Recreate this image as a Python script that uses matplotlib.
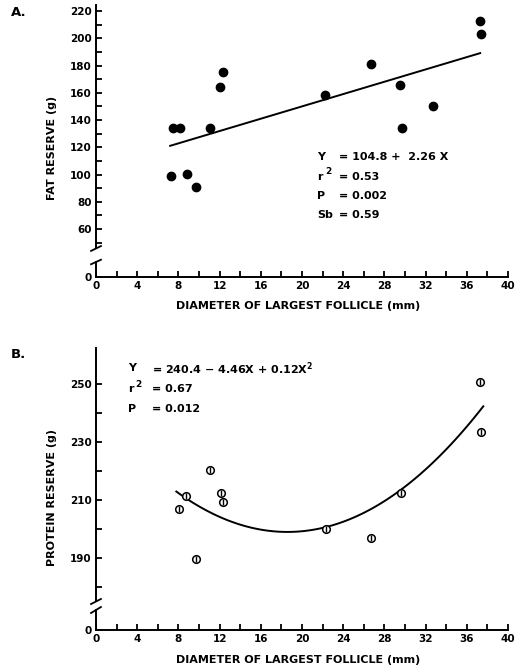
import matplotlib.pyplot as plt
import numpy as np
from matplotlib.ticker import MultipleLocator

plt.rcParams['font.family'] = ['DejaVu Sans']
plt.rcParams['font.weight'] = 'bold'
plt.rcParams['mathtext.fontset'] = 'dejavusans'

# 数据 A: fat reserve
fat_x = [7.3, 7.5, 8.15, 8.8, 9.75, 11.1, 12.05, 12.35, 22.2, 26.7, 29.55, 29.7, 32.75, 37.3, 37.35]
fat_y = [99, 134.5, 134.5, 100.5, 90.5, 134, 164.5, 175.5, 158.5, 181, 165.5, 134, 150.5, 213, 203]
fat_coef = [104.8, 2.26]        # Y = a + bX
fat_range = [7.2, 37.3]

# 数据 B: protein reserve
prot_x = [8.1, 8.75, 9.75, 11.1, 12.1, 12.3, 22.3, 26.7, 29.65, 37.3, 37.35]
prot_y = [207, 211.5, 189.5, 220.5, 212.3, 209.4, 200, 197, 212.4, 250.7, 233.6]
prot_coef = [240.4, -4.46, 0.12]  # Y = a + bX + cX^2
prot_range = [7.8, 37.6]

W, H = 524, 667
fig = plt.figure(figsize=(W / 100, H / 100), dpi=100)


def fx(px):
    return px / W


def fy(py):
    return 1 - py / H


def style(ax, bottom=False):
    for s in ['top', 'right']:
        ax.spines[s].set_visible(False)
    ax.spines['left'].set_linewidth(1.4)
    ax.spines['bottom'].set_linewidth(1.4)
    ax.tick_params(direction='in', length=4, width=1.3, labelsize=7.5, pad=3)
    ax.tick_params(which='minor', direction='in', length=4, width=1.3)
    ax.set_xlim(0, 40)
    if not bottom:
        ax.spines['bottom'].set_visible(False)
        ax.tick_params(axis='x', which='both', bottom=False, labelbottom=False)
    else:
        ax.xaxis.set_major_locator(MultipleLocator(4))
        ax.xaxis.set_minor_locator(MultipleLocator(2))


def breakmarks(ax, ax_low):
    kw = dict(color='black', lw=1.3, clip_on=False)
    ax.plot([-0.012, 0.012], [-0.012, 0.008], transform=ax.transAxes, **kw)
    ax_low.plot([-0.012, 0.012], [0.85, 1.15], transform=ax_low.transAxes, **kw)


def sup2(ax, x, y, fs):
    # 上标 2, 比 mathtext 默认的大一些
    ax.annotate('2', (x, y), xytext=(5.5, 3.5), textcoords='offset points',
                fontsize=fs * 0.8, fontweight='bold', va='center')


left = fx(96)
width = fx(508) - fx(96)
fs = 8

# ---------- A ----------
axA = fig.add_axes([left, fy(248), width, fy(5) - fy(248)])
axA_low = fig.add_axes([left, fy(277), width, fy(262) - fy(277)])
style(axA)
style(axA_low, bottom=True)
axA.set_ylim(46.1, 224.4)
axA.set_yticks(range(60, 221, 20))
axA.yaxis.set_minor_locator(MultipleLocator(10))
axA_low.set_ylim(0, 11)
axA_low.set_yticks([0])
breakmarks(axA, axA_low)

axA.scatter(fat_x, fat_y, s=36, color='black', zorder=3)
xx = np.linspace(fat_range[0], fat_range[1], 50)
axA.plot(xx, fat_coef[0] + fat_coef[1] * xx, color='black', lw=1.4)

statsA = [('Y', '= 104.8 +  2.26 X', 113), ('r', '= 0.53', 98.3),
          ('P', '= 0.002', 84.4), ('Sb', '= 0.59', 70.4)]
for name, val, yy in statsA:
    axA.text(21.5, yy, name, fontsize=fs, fontweight='bold', va='center')
    axA.text(23.6, yy, val, fontsize=fs, fontweight='bold', va='center')
    if name == 'r':
        sup2(axA, 21.5, yy, fs)

fig.text(fx(52), fy(148), 'FAT RESERVE (g)', rotation=90, fontsize=fs,
         fontweight='bold', ha='center', va='center')
fig.text(fx(298), fy(306), 'DIAMETER OF LARGEST FOLLICLE (mm)', fontsize=fs,
         fontweight='bold', ha='center', va='center')
fig.text(fx(11), fy(13), 'A.', fontsize=9.5, fontweight='bold', ha='left', va='center')

# ---------- B ----------
axB = fig.add_axes([left, fy(601), width, fy(348) - fy(601)])
axB_low = fig.add_axes([left, fy(630), width, fy(610) - fy(630)])
style(axB)
style(axB_low, bottom=True)
axB.set_ylim(175.1, 262.5)
axB.set_yticks([190, 210, 230, 250])
axB.set_yticks([180, 200, 220, 240], minor=True)
axB_low.set_ylim(0, 6.9)
axB_low.set_yticks([0])
breakmarks(axB, axB_low)

axB.scatter(prot_x, prot_y, s=30, facecolor='white', edgecolor='black', linewidth=1.1, zorder=3)
axB.scatter(prot_x, prot_y, s=22, marker='|', color='black', linewidth=1.0, zorder=4)
xx = np.linspace(prot_range[0], prot_range[1], 100)
axB.plot(xx, prot_coef[0] + prot_coef[1] * xx + prot_coef[2] * xx ** 2, color='black', lw=1.4)

statsB = [('Y', r'= 240.4 − 4.46X + 0.12X$^{\mathbf{2}}$', 255.5),
          ('r', '= 0.67', 248.3), ('P', '= 0.012', 241.4)]
for name, val, yy in statsB:
    axB.text(3.1, yy, name, fontsize=fs, fontweight='bold', va='center')
    axB.text(5.4, yy, val, fontsize=fs, fontweight='bold', va='center')
    if name == 'r':
        sup2(axB, 3.1, yy, fs)

fig.text(fx(52), fy(497), 'PROTEIN RESERVE (g)', rotation=90, fontsize=fs,
         fontweight='bold', ha='center', va='center')
fig.text(fx(298), fy(660), 'DIAMETER OF LARGEST FOLLICLE (mm)', fontsize=fs,
         fontweight='bold', ha='center', va='center')
fig.text(fx(11), fy(355), 'B.', fontsize=9.5, fontweight='bold', ha='left', va='center')

plt.savefig('out.png', dpi=100)
